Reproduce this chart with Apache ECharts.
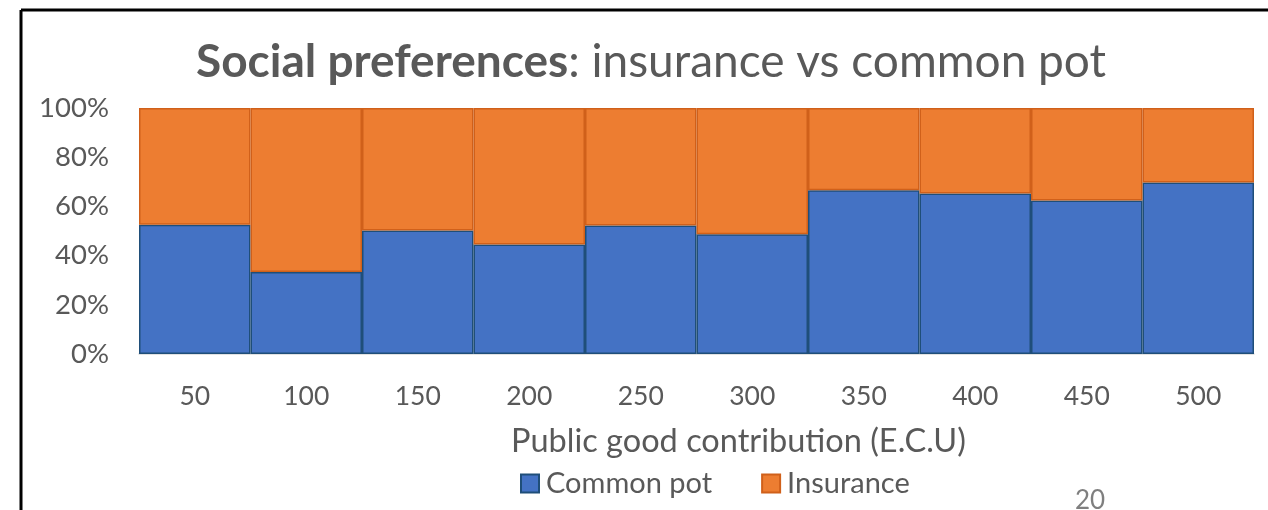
<!DOCTYPE html>
<html><head><meta charset="utf-8">
<script src="https://cdn.jsdelivr.net/npm/echarts@6/dist/echarts.min.js"></script>
<style>html,body{margin:0;padding:0;background:#fff}#c{width:1268px;height:510px}</style>
</head><body><div id="c"></div>
<script>
var categories = ['50','100','150','200','250','300','350','400','450','500'];
var commonPot = [52.5, 33.3, 50.2, 44.5, 52.2, 48.7, 66.6, 65.2, 62.4, 69.7];
var insurance = [47.5, 66.7, 49.8, 55.5, 47.8, 51.3, 33.4, 34.8, 37.6, 30.3];
var yTicks = [0, 20, 40, 60, 80, 100];

var FONT = 'Lato';
var chart = echarts.init(document.getElementById('c'));
chart.setOption({
  animation: false,
  textStyle: {fontFamily: FONT, color: '#595959'},
  title: {
    text: '{b|Social preferences}{n|: insurance vs common pot}',
    left: 196, top: 39,
    padding: 0,
    textStyle: {rich: {
      b: {fontFamily: FONT, fontSize: 46, fontWeight: 'bold', color: '#595959'},
      n: {fontFamily: FONT, fontSize: 46, fontWeight: 'normal', color: '#595959'}
    }}
  },
  legend: {
    left: 515, top: 464,
    itemWidth: 18, itemHeight: 18, itemGap: 49,
    icon: 'rect',
    textStyle: {fontFamily: FONT, fontSize: 29, color: '#595959', padding: [0, 0, 0, 2]},
    data: ['Common pot', 'Insurance']
  },
  grid: {left: 139, right: 14, top: 108, bottom: 156},
  xAxis: {
    type: 'category', data: categories,
    axisLine: {lineStyle: {color: '#D9D9D9', width: 1.5}},
    axisTick: {show: false},
    axisLabel: {fontSize: 26.5, color: '#595959', margin: 29, fontFamily: FONT},
    name: 'Public good contribution (E.C.U)',
    nameLocation: 'middle', nameGap: 71,
    nameTextStyle: {fontSize: 32.5, color: '#595959', fontFamily: FONT, padding: [0, 0, 0, 84]}
  },
  yAxis: {
    type: 'value', min: 0, max: 100, interval: 20,
    axisLine: {show: false}, axisTick: {show: false}, splitLine: {show: false},
    axisLabel: {fontSize: 27.5, color: '#595959', margin: 30, fontFamily: FONT,
      formatter: function (v) { return yTicks.indexOf(v) >= 0 ? v + '%' : ''; }}
  },
  graphic: [
    {type: 'line', shape: {x1: 21, y1: 10, x2: 1268, y2: 10}, style: {stroke: '#000', lineWidth: 3}},
    {type: 'line', shape: {x1: 21, y1: 10, x2: 21, y2: 510}, style: {stroke: '#000', lineWidth: 3}},
    {type: 'text', left: 1075, top: 488, style: {text: '20', fontSize: 26, fill: '#7f7f7f', fontFamily: FONT}}
  ],
  series: [
    {name: 'Common pot', type: 'bar', stack: 'a', data: commonPot, barCategoryGap: 0,
     itemStyle: {color: '#4472C4', borderColor: '#1F4E79', borderWidth: 1.5}},
    {name: 'Insurance', type: 'bar', stack: 'a', data: insurance, barCategoryGap: 0,
     itemStyle: {color: '#ED7D31', borderColor: '#D0601A', borderWidth: 1.5}}
  ]
});
</script></body></html>
